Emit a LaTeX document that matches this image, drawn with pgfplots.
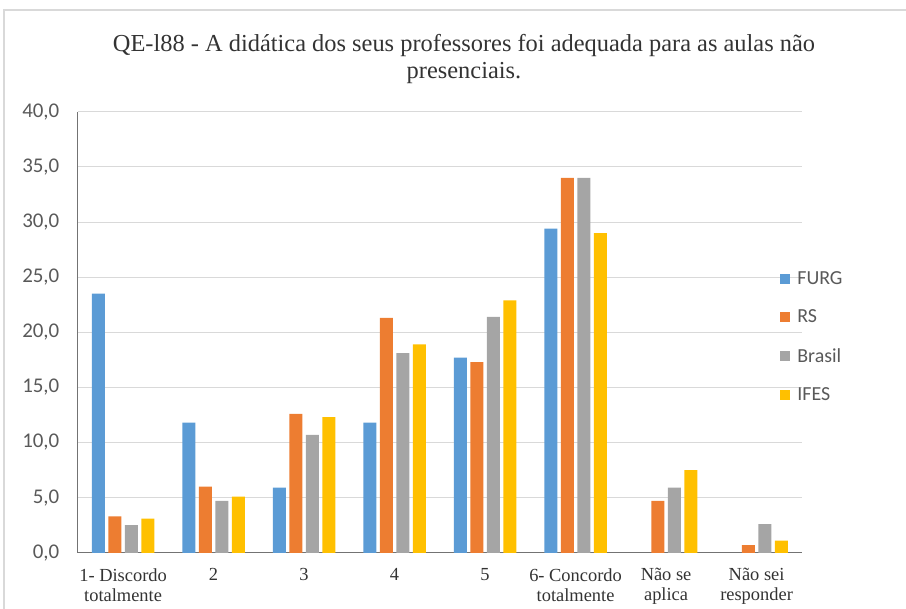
\documentclass[border=0pt]{standalone}
\usepackage{fontspec}
\setmainfont{Liberation Serif}
\newfontfamily\calib{Carlito}
\usepackage{pgfplots}
\pgfplotsset{compat=1.18}
\definecolor{cFURG}{HTML}{5B9BD5}
\definecolor{cRS}{HTML}{ED7D31}
\definecolor{cBR}{HTML}{A5A5A5}
\definecolor{cIF}{HTML}{FFC000}
\definecolor{tgray}{HTML}{595959}
\definecolor{gridc}{HTML}{D9D9D9}
\begin{document}
\begin{tikzpicture}[x=1bp,y=1bp]
\draw[color=gridc, line width=2bp] (4,-20) -- (4,599) -- (930,599);
\node[font=\fontsize{24.5}{28}\selectfont, align=center, text=black!80] at (464,550)
  {QE-l88 - A didática dos seus professores foi adequada para as aulas não\\presenciais.};
\begin{axis}[
  at={(86,51)}, anchor=south west,
  scale only axis, width=724bp, height=441bp,
  ymin=0, ymax=40, ytick={0,5,...,40},
  xmin=-0.5, xmax=7.5,
  xtick={0,...,7},
  xticklabels={{1- Discordo\\totalmente},{2},{3},{4},{5},{6- Concordo\\totalmente},{Não se\\aplica},{Não sei\\responder}},
  xticklabel style={align=center, font=\fontsize{18.5}{20}\selectfont, text=black!80},
  xticklabel shift=12bp,
  yticklabel style={font=\calib\fontsize{21}{24}\selectfont, text=tgray},
  yticklabel shift=15bp,
  /pgf/number format/.cd, fixed, fixed zerofill, precision=1, use comma, assume math mode=true,
  /pgfplots/.cd,
  major tick length=0pt,
  ymajorgrids, xmajorgrids=false, grid style={color=gridc, line width=1bp},
  axis x line*=bottom, axis y line*=left,
  axis line style={black!55, line width=1.2bp},
  ybar=3.5bp, bar width=13bp,
  legend style={at={(0.966,0.49)}, anchor=west, draw=none, fill=none,
    font=\calib\fontsize{20}{24}\selectfont, text=tgray, row sep=20bp,
    /tikz/every odd column/.append style={column sep=5bp}},
  legend cell align=left,
  legend image code/.code={\fill[#1] (0bp,-5bp) rectangle (10bp,5bp);},
]
\addplot[fill=cFURG, draw=none] coordinates {(0,23.5) (1,11.8) (2,5.9) (3,11.8) (4,17.7) (5,29.4)};
\addplot[fill=cRS, draw=none] coordinates {(0,3.3) (1,6.0) (2,12.6) (3,21.3) (4,17.3) (5,34.0) (6,4.7) (7,0.7)};
\addplot[fill=cBR, draw=none] coordinates {(0,2.5) (1,4.7) (2,10.7) (3,18.1) (4,21.4) (5,34.0) (6,5.9) (7,2.6)};
\addplot[fill=cIF, draw=none] coordinates {(0,3.1) (1,5.1) (2,12.3) (3,18.9) (4,22.9) (5,29.0) (6,7.5) (7,1.1)};
\legend{FURG,RS,Brasil,IFES}
\end{axis}
\pgfresetboundingbox
\useasboundingbox (0,0) rectangle (906,609);
\end{tikzpicture}
\end{document}
